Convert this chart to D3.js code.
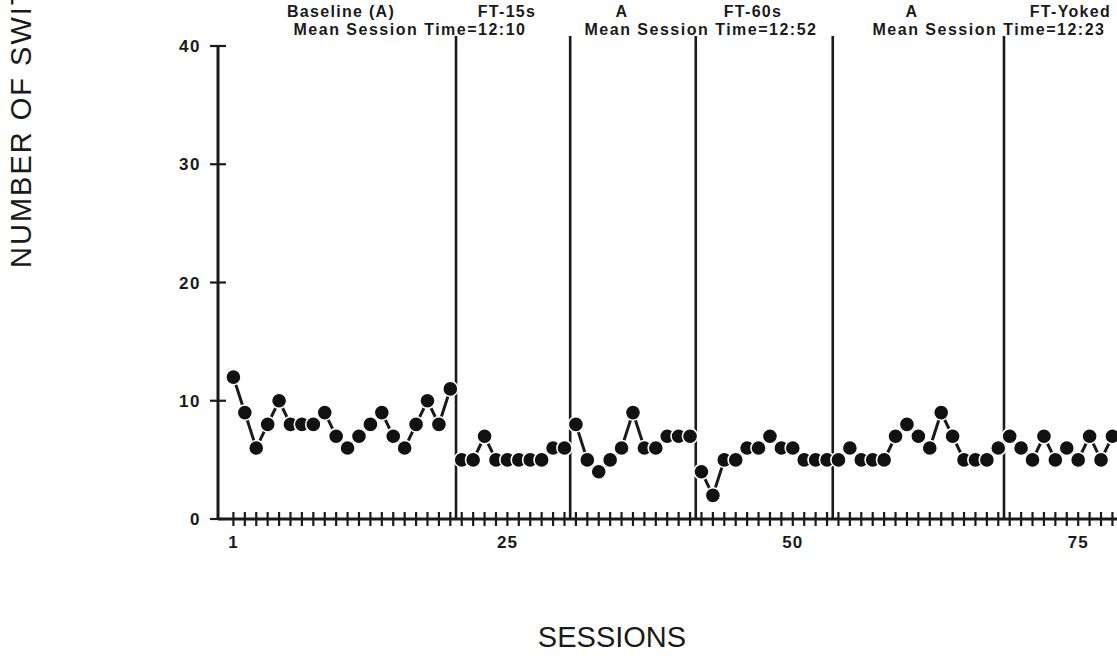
<!DOCTYPE html>
<html>
<head>
<meta charset="utf-8">
<script src="https://cdn.jsdelivr.net/npm/d3@7"></script>
<style>
  html, body { margin: 0; padding: 0; background: #fff; }
  svg { display: block; }
  text { font-family: "Liberation Sans", Arial, Helvetica, sans-serif; fill: #1a1a1a; }
</style>
</head>
<body>
<div id="graph"></div>
<script>
// switch counts per session, one array per phase
const baselineA = [12, 9, 6, 8, 10, 8, 8, 8, 9, 7, 6, 7, 8, 9, 7, 6, 8, 10, 8, 11];
const ft15s = [5, 5, 7, 5, 5, 5, 5, 5, 6, 6];
const returnA1 = [8, 5, 4, 5, 6, 9, 6, 6, 7, 7, 7];
const ft60s = [4, 2, 5, 5, 6, 6, 7, 6, 6, 5, 5, 5];
const returnA2 = [5, 6, 5, 5, 5, 7, 8, 7, 6, 9, 7, 5, 5, 5, 6];
const ftYoked = [7, 6, 5, 7, 5, 6, 5, 7, 5, 7];

const phaseNames = ['Baseline (A)', 'FT-15s', 'A', 'FT-60s', 'A', 'FT-Yoked'];
const meanTimes = ['Mean Session Time=12:10', 'Mean Session Time=12:52', 'Mean Session Time=12:23'];
const yTicks = [0, 10, 20, 30, 40];
const xTickLabels = [1, 25, 50, 75];

const width = 1117;
const height = 660;

const svg = d3.select('#graph')
    .append('svg')
    .attr('width', width)
    .attr('height', height);

// build sessions, keep phase index
const phases = [baselineA, ft15s, returnA1, ft60s, returnA2, ftYoked];
let session = 0;
const phaseData = phases.map(vals => vals.map(v => ({ session: ++session, value: v })));
const nSessions = session;

const xScale = d3.scaleLinear()
    .domain([0, 78.4])
    .range([222, 1117]);

const yScale = d3.scaleLinear()
    .domain([0, 40])
    .range([519, 46]);

const axisX = 218;
const ink = '#1a1a1a';

// x axis line + crossing ticks
svg.append('line')
    .attr('x1', axisX).attr('x2', width)
    .attr('y1', yScale(0)).attr('y2', yScale(0))
    .attr('stroke', ink).attr('stroke-width', 3);

svg.append('g')
    .selectAll('line')
    .data(d3.range(1, nSessions + 1))
    .enter()
    .append('line')
    .attr('x1', d => xScale(d)).attr('x2', d => xScale(d))
    .attr('y1', yScale(0) - 7).attr('y2', yScale(0) + 7)
    .attr('stroke', ink).attr('stroke-width', 2.2);

svg.append('g')
    .selectAll('text')
    .data(xTickLabels)
    .enter()
    .append('text')
    .attr('x', d => xScale(d))
    .attr('y', yScale(0) + 29)
    .attr('text-anchor', 'middle')
    .style('font-size', '17px')
    .style('font-weight', 'bold')
    .style('letter-spacing', '1px')
    .text(d => d);

// y axis
svg.append('line')
    .attr('x1', axisX).attr('x2', axisX)
    .attr('y1', yScale(0) + 1).attr('y2', yScale(40))
    .attr('stroke', ink).attr('stroke-width', 3);

svg.append('g')
    .selectAll('line')
    .data(yTicks)
    .enter()
    .append('line')
    .attr('x1', axisX - 8).attr('x2', axisX + 8)
    .attr('y1', d => yScale(d)).attr('y2', d => yScale(d))
    .attr('stroke', ink).attr('stroke-width', 2.2);

svg.append('g')
    .selectAll('text')
    .data(yTicks)
    .enter()
    .append('text')
    .attr('x', axisX - 17)
    .attr('y', d => yScale(d) + 6)
    .attr('text-anchor', 'end')
    .style('font-size', '17px')
    .style('font-weight', 'bold')
    .style('letter-spacing', '1.5px')
    .text(d => d);

// phase change lines
const boundaries = phaseData.slice(1).map(p => p[0].session - 0.5);
svg.append('g')
    .selectAll('line')
    .data(boundaries)
    .enter()
    .append('line')
    .attr('x1', d => xScale(d)).attr('x2', d => xScale(d))
    .attr('y1', 36).attr('y2', yScale(0))
    .attr('stroke', ink).attr('stroke-width', 2.6);

// connecting lines per phase
const line = d3.line()
    .x(d => xScale(d.session))
    .y(d => yScale(d.value));

svg.append('g')
    .selectAll('path')
    .data(phaseData)
    .enter()
    .append('path')
    .attr('d', line)
    .attr('fill', 'none')
    .attr('stroke', ink)
    .attr('stroke-width', 3);

// dots
svg.append('g')
    .selectAll('circle')
    .data(phaseData.flat())
    .enter()
    .append('circle')
    .attr('cx', d => xScale(d.session))
    .attr('cy', d => yScale(d.value))
    .attr('r', 7.6)
    .attr('fill', '#111')
    .attr('stroke', '#fff')
    .attr('stroke-width', 1.6);

// phase labels
const nameX = [341, 507, 622, 753, 912, 1081];
svg.append('g')
    .selectAll('text')
    .data(phaseNames)
    .enter()
    .append('text')
    .attr('x', (d, i) => i === phaseNames.length - 1 ? 1111 : nameX[i])
    .attr('y', 17)
    .attr('text-anchor', (d, i) => i === phaseNames.length - 1 ? 'end' : 'middle')
    .style('font-size', '16px')
    .style('font-weight', 'bold')
    .style('letter-spacing', '1.3px')
    .text(d => d);

const meanX = [410, 701, 989];
svg.append('g')
    .selectAll('text')
    .data(meanTimes)
    .enter()
    .append('text')
    .attr('x', (d, i) => meanX[i])
    .attr('y', 35)
    .attr('text-anchor', 'middle')
    .style('font-size', '16px')
    .style('font-weight', 'bold')
    .style('letter-spacing', '1.5px')
    .text(d => d);

// axis titles
svg.append('text')
    .attr('x', 612)
    .attr('y', 647)
    .attr('text-anchor', 'middle')
    .style('font-size', '29px')
    .text('SESSIONS');

svg.append('text')
    .attr('transform', 'translate(31, 268) rotate(-90)')
    .style('font-size', '29px')
    .style('letter-spacing', '2px')
    .text('NUMBER OF SWITCHES');
</script>
</body>
</html>
